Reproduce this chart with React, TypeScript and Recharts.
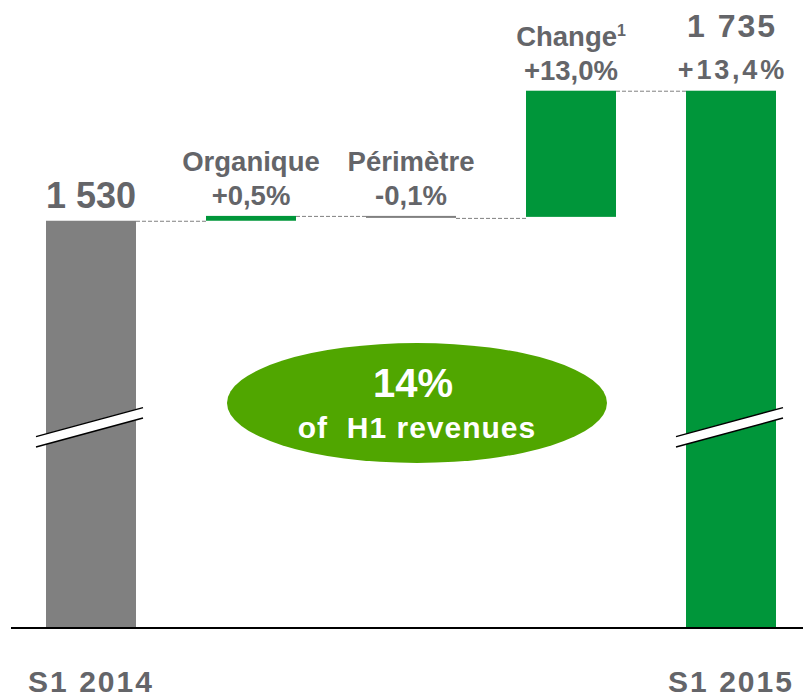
import React from 'react';
import { BarChart, Bar, XAxis, YAxis, Customized } from 'recharts';

// ---- data ----
const categories = ['S1 2014', 'Organique', 'Périmètre', 'Change', 'S1 2015'];
const kinds = ['total', 'delta', 'delta', 'delta', 'total'];
const values = [1530, 7.65, -1.53, 198.88, 1735];
const nameLabels = ['', 'Organique', 'Périmètre', 'Change', ''];
const footnoteMarks = ['', '', '', '1', ''];
const pctLabels = ['', '+0,5%', '-0,1%', '+13,0%', '+13,4%'];
const valueLabels = ['1 530', '', '', '', '1 735'];
const tickLabels = ['S1 2014', '', '', '', 'S1 2015'];
const AXIS_FLOOR = 888; // broken axis floor
const AXIS_CEIL = 1878;
const BREAK_VALUE = 1205;
const calloutBig = '14%';
const calloutSmall = 'of  H1 revenues';

// ---- styles ----
const GRAY = '#808080';
const GREEN = '#00963a';
const CALLOUT = '#50a600';
const TEXT = '#646569';
const FONT = '"Liberation Sans", Arial, Helvetica, sans-serif';
const BAR_SIZE = 90;
const GAP = 70;

const data = (() => {
  let run = 0;
  return categories.map((name, i) => {
    const v = values[i];
    let range: number[];
    if (kinds[i] === 'total') {
      range = [AXIS_FLOOR, v];
      run = v;
    } else {
      const start = run;
      const end = run + v;
      range = [Math.min(start, end), Math.max(start, end)];
      run = end;
    }
    return { name, idx: i, kind: kinds[i], delta: v, range, tick: tickLabels[i] };
  });
})();

const BarShape = (props: any) => {
  const { x, y, width, height, payload } = props;
  const idx = payload.idx;
  const last = categories.length - 1;
  const isTotal = payload.kind === 'total';
  const neg = payload.delta < 0;
  const top = Math.min(y, y + height);
  let h = Math.abs(height);
  if (!isTotal) h = Math.max(h, 2);
  const fill = isTotal ? (idx === 0 ? GRAY : GREEN) : neg ? GRAY : GREEN;
  const cx = x + width / 2;
  const endY = !isTotal && neg ? top + h : top;

  const els: any[] = [];
  els.push(<rect key="r" x={x} y={top} width={width} height={h} fill={fill} />);

  if (idx < last) {
    els.push(
      <line key="c" x1={x + width} x2={x + width + GAP} y1={endY + 0.5} y2={endY + 0.5}
        stroke="#808080" strokeWidth={1} strokeDasharray="4 2" />
    );
  }

  if (isTotal) {
    const hi = payload.range[1];
    const lo = payload.range[0];
    const by = top + (h * (hi - BREAK_VALUE)) / (hi - lo);
    const xl = cx - 55;
    const xr = cx + 52;
    const slope = -29 / 107;
    const yy = (xx: number, off: number) => by + off + (xx - cx) * slope;
    els.push(
      <g key="b">
        <polygon
          points={`${xl},${yy(xl, -5.2)} ${xr},${yy(xr, -5.2)} ${xr},${yy(xr, 5.2)} ${xl},${yy(xl, 5.2)}`}
          fill="#ffffff" />
        <line x1={xl} y1={yy(xl, -5.2)} x2={xr} y2={yy(xr, -5.2)} stroke="#000" strokeWidth={1.5} />
        <line x1={xl} y1={yy(xl, 5.2)} x2={xr} y2={yy(xr, 5.2)} stroke="#000" strokeWidth={1.5} />
      </g>
    );
    if (pctLabels[idx]) {
      els.push(
        <text key="v" x={cx + 1} y={top - 54} textAnchor="middle" fontFamily={FONT} fontWeight="bold"
          fontSize={32} letterSpacing={2} fill={TEXT}>{valueLabels[idx]}</text>
      );
      els.push(
        <text key="p" x={cx + 1.4} y={top - 12} textAnchor="middle" fontFamily={FONT} fontWeight="bold"
          fontSize={27} letterSpacing={2.8} fill={TEXT}>{pctLabels[idx]}</text>
      );
    } else {
      els.push(
        <text key="v" x={cx} y={top - 13} textAnchor="middle" fontFamily={FONT} fontWeight="bold"
          fontSize={36} fill={TEXT}>{valueLabels[idx]}</text>
      );
    }
  } else {
    els.push(
      <text key="n" x={cx} y={top - 45} textAnchor="middle" fontFamily={FONT} fontWeight="bold"
        fontSize={27.5} fill={TEXT}>
        {nameLabels[idx]}
        {footnoteMarks[idx] ? (
          <tspan fontSize={16} dy={-10}>{footnoteMarks[idx]}</tspan>
        ) : null}
      </text>
    );
    els.push(
      <text key="p" x={cx} y={top - 11} textAnchor="middle" fontFamily={FONT} fontWeight="bold"
        fontSize={27.5} fill={TEXT}>{pctLabels[idx]}</text>
    );
  }
  return <g>{els}</g>;
};

const Tick = (props: any) => {
  const { x, y, payload } = props;
  const i = categories.indexOf(payload.value);
  const label = tickLabels[i] || '';
  return (
    <text x={x} y={y + 64} textAnchor="middle" fontFamily={FONT} fontWeight="bold" fontSize={30}
      letterSpacing={2} fill={TEXT}>{label}</text>
  );
};

const Callout = () => (
  <g>
    <ellipse cx={417} cy={403} rx={190} ry={60} fill={CALLOUT} />
    <text x={413} y={397} textAnchor="middle" fontFamily={FONT} fontWeight="bold" fontSize={40}
      fill="#ffffff">{calloutBig}</text>
    <text x={417} y={438} textAnchor="middle" fontFamily={FONT} fontWeight="bold" fontSize={30}
      letterSpacing={1} fill="#ffffff" style={{ whiteSpace: 'pre' }}>{calloutSmall}</text>
  </g>
);

export default function App() {
  return (
    <div style={{ position: 'absolute', left: 0, top: 0, width: 803, height: 699, overflow: 'hidden', background: '#fff' }}>
      <BarChart width={811} height={699} data={data} margin={{ top: 0, right: 0, left: 11, bottom: 0 }}
        barSize={BAR_SIZE}>
        <XAxis dataKey="name" height={71} tickLine={false} tickSize={0} tickMargin={0}
          axisLine={{ stroke: '#000', strokeWidth: 2 }} tick={<Tick />} interval={0} />
        <YAxis hide domain={[AXIS_FLOOR, AXIS_CEIL]} allowDataOverflow type="number" />
        <Bar dataKey="range" isAnimationActive={false} shape={(p: any) => <BarShape {...p} />} />
        <Customized component={Callout} />
      </BarChart>
    </div>
  );
}
